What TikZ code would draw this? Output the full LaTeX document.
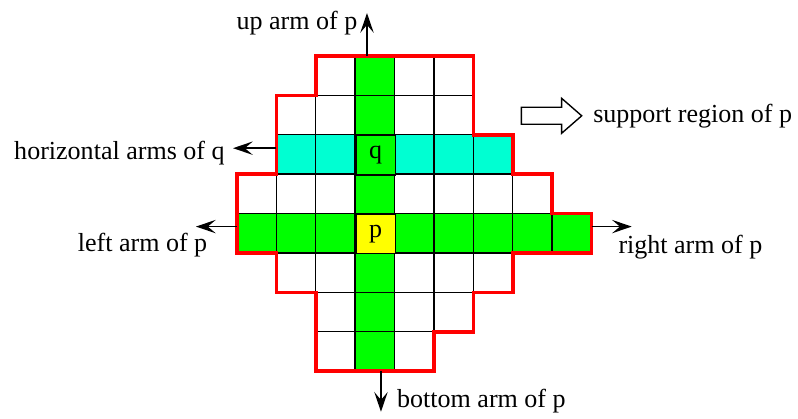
\documentclass[tikz,border=0pt]{standalone}
\usepackage{fontspec}
\setmainfont{Liberation Serif}
\usetikzlibrary{arrows.meta,positioning}
\definecolor{supGreen}{HTML}{00FF00}
\definecolor{supCyan}{HTML}{00FFD2}
\definecolor{supYellow}{HTML}{FFFF00}
\definecolor{supRed}{HTML}{FF0000}
\tikzset{
  supcell/.style={draw=black,line width=0.5pt},
  suparm/.style={supcell,fill=supGreen},
  supharm/.style={supcell,fill=supCyan},
  supcen/.style={supcell,minimum size=5mm,inner sep=0pt,anchor=north west,font=\fontsize{9.4}{11}\selectfont},
  supedge/.style={draw=supRed,line width=1.3pt,line join=miter},
  supflow/.style={-{Stealth[length=2.5mm,width=1.7mm,inset=1mm]},line width=0.5pt},
  suplbl/.style={inner sep=0pt,font=\fontsize{9.4}{11}\selectfont},
}

\begin{document}
\begin{tikzpicture}[x=5mm,y=5mm]
  \useasboundingbox (-6.015,-9.213) rectangle (14.24,1.421);

  \foreach \r/\a/\b in {0/2/5,1/1/5,2/1/6,3/0/7,4/0/8,5/1/6,6/2/5,7/2/4}
    \foreach \c in {\a,...,\b}
      \draw[supcell] (\c,-\r) rectangle ++(1,-1);
  \foreach \c in {1,...,6} \draw[supharm] (\c,-2) rectangle ++(1,-1);
  \foreach \c in {0,...,8} \draw[suparm] (\c,-4) rectangle ++(1,-1);
  \foreach \r in {0,...,7} \draw[suparm] (3,-\r) rectangle ++(1,-1);
  \node[supcen,fill=supYellow] (p) at (3,-4) {p};
  \node[supcen,fill=supGreen] (q) at (3,-2) {q};

  \draw[supedge] (2,0) -| (6,-2) -| (7,-3) -| (8,-4) -| (9,-5) -| (7,-6) -| (6,-7) -| (5,-8)
    -| (2,-6) -| (1,-5) -| (0,-3) -| (1,-1) -| (2,0) -- cycle;

  \coordinate (upS) at (3.30,0);
  \coordinate (upT) at (3.30,1.09);
  \coordinate (dnS) at (3.655,-8);
  \coordinate (dnT) at (3.655,-9.03);
  \coordinate (lfS) at (0,-4.33);
  \coordinate (lfT) at (-1.04,-4.33);
  \coordinate (hqS) at (1,-2.34);
  \coordinate (hqT) at (-0.10,-2.34);
  \coordinate (rtS) at (9,-4.33);
  \coordinate (rtT) at (10.02,-4.33);
  \coordinate (supA) at (7.22,-1.518);

  \node[suplbl,anchor=base east] (uplbl) at (3.07,0.685) {up arm of p};
  \node[suplbl,anchor=base west] (dnlbl) at (4.053,-8.93) {bottom arm of p};
  \node[suplbl,anchor=base east] (lflbl) at (-0.74,-4.97) {left arm of p};
  \node[suplbl,anchor=base east] (hqlbl) at (-0.30,-2.62) {horizontal arms of q};
  \node[suplbl,anchor=base west] (rtlbl) at (9.67,-5.01) {right arm of p};
  \node[suplbl,anchor=base west] (suplbl) at (9.03,-1.70) {support region of p};

  \draw[supflow] (upS) -- (upT);
  \draw[supflow] (dnS) -- (dnT);
  \draw[supflow] (lfS) -- (lfT);
  \draw[supflow] (hqS) -- (hqT);
  \draw[supflow] (rtS) -- (rtT);
  \draw[line width=0.5pt,fill=white] (supA) ++(0,0.216) -- ++(1.02,0) -- ++(0,0.228) -- ++(0.51,-0.444)
    -- ++(-0.51,-0.444) -- ++(0,0.228) -- ++(-1.02,0) -- cycle;
\end{tikzpicture}
\end{document}
